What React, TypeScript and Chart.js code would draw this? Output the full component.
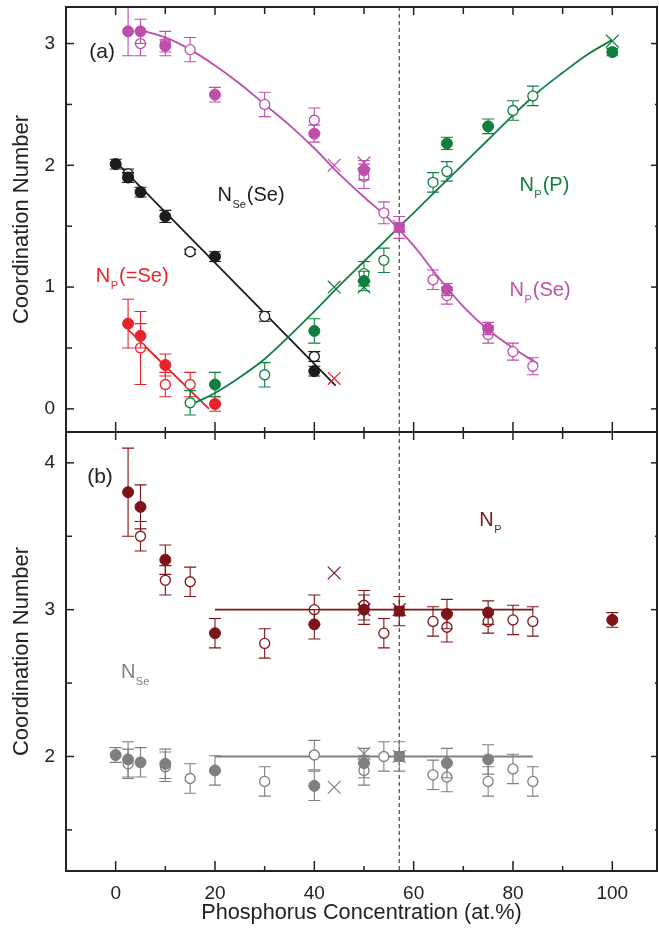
import React, { useEffect, useRef } from "react";
import { Chart, registerables } from "chart.js";

Chart.register(...registerables);

const FONT = "'Liberation Sans', Arimo, Arial, Helvetica, sans-serif";

// ---------- axes ----------
const X_MIN = -10;
const X_MAX = 109;
const xTicks = [0, 20, 40, 60, 80, 100];
const xMinorTicks = [10, 30, 50, 70, 90];
const Y_MIN_A = -0.19;
const Y_MAX_A = 3.3;
const yTicksA = [0, 1, 2, 3];
const yMinorTicksA = [0.5, 1.5, 2.5];
const Y_MIN_B = 1.22;
const Y_MAX_B = 4.21;
const yTicksB = [2, 3, 4];
const yMinorTicksB = [1.5, 2.5, 3.5];
const dashX = 57.1;

// ---------- colours ----------
const BLACK = "#1c1c1c";
const RED = "#e8242b";
const GREEN = "#0f7f3f";
const PINK = "#bd4fab";
const DARKRED = "#7d1418";
const GREY = "#7f7f7f";
const AXIS = "#222222";

// ---------- panel (a) data ----------
// N_Se(Se) black
const seSeFilledX = [0, 2.5, 5, 10, 20, 40];
const seSeFilledY = [2.01, 1.9, 1.78, 1.58, 1.25, 0.31];
const seSeFilledErr = [0.04, 0.04, 0.04, 0.05, 0.04, 0.04];
const seSeOpenX = [2.5, 15, 30, 40];
const seSeOpenY = [1.93, 1.29, 0.76, 0.43];
const seSeOpenErr = [0.04, 0.02, 0.04, 0.04];
const seSeLineX = [-0.5, 44.3];
const seSeLineY = [2.05, 0.19];

// N_P(=Se) red
const pDblFilledX = [2.5, 5, 10, 20];
const pDblFilledY = [0.7, 0.6, 0.36, 0.04];
const pDblFilledErr = [0.2, 0.1, 0.09, 0.06];
const pDblOpenX = [5, 10, 15];
const pDblOpenY = [0.5, 0.2, 0.2];
const pDblOpenErr = [0.3, 0.1, 0.1];
const pDblCrossX = [44];
const pDblCrossY = [0.25];
const pDblLineX = [2.5, 18.8];
const pDblLineY = [0.65, 0.0];

// N_P(P) green
const pPFilledX = [20, 40, 50, 66.7, 75, 100];
const pPFilledY = [0.2, 0.64, 1.05, 2.18, 2.32, 2.93];
const pPFilledErr = [0.1, 0.1, 0.08, 0.05, 0.06, 0.03];
const pPOpenX = [15, 30, 50, 54, 63.9, 66.7, 80, 84];
const pPOpenY = [0.05, 0.28, 1.11, 1.22, 1.86, 1.95, 2.45, 2.57];
const pPOpenErr = [0.1, 0.1, 0.1, 0.1, 0.08, 0.08, 0.08, 0.08];
const pPCrossX = [44, 50, 100];
const pPCrossY = [1.0, 1.0, 3.02];
const pPCurveX = [16, 20, 25, 30, 35, 40, 45, 50, 55, 60, 65, 70, 75, 80, 85, 90, 95, 100];
const pPCurveY = [0.05, 0.13, 0.26, 0.41, 0.6, 0.8, 1.01, 1.21, 1.41, 1.61, 1.81, 2.01, 2.21, 2.41, 2.6, 2.76, 2.91, 3.03];

// N_P(Se) pink
const pSeFilledX = [2.5, 5, 10, 20, 40, 50, 66.7, 75];
const pSeFilledY = [3.1, 3.1, 2.98, 2.58, 2.26, 1.96, 0.98, 0.66];
const pSeFilledErr = [0.2, 0.1, 0.05, 0.06, 0.07, 0.08, 0.05, 0.05];
const pSeOpenX = [5, 10, 15, 30, 40, 50, 54, 63.9, 66.7, 75, 80, 84];
const pSeOpenY = [3.0, 3.0, 2.95, 2.5, 2.37, 1.91, 1.61, 1.06, 0.93, 0.61, 0.47, 0.35];
const pSeOpenErr = [0.1, 0.1, 0.1, 0.1, 0.1, 0.1, 0.09, 0.08, 0.07, 0.07, 0.07, 0.07];
const pSeCrossX = [44, 50, 57.1];
const pSeCrossY = [2.0, 2.02, 1.5];
const pSeSquareX = [57.1];
const pSeSquareY = [1.49];
const pSeSquareErr = [0.09];
const pSeCurveX = [5, 10, 15, 20, 25, 30, 35, 40, 45, 50, 55, 60, 65, 70, 75, 80, 85];
const pSeCurveY = [3.11, 3.05, 2.95, 2.82, 2.67, 2.5, 2.33, 2.14, 1.93, 1.74, 1.56, 1.34, 1.08, 0.84, 0.65, 0.5, 0.37];

// ---------- panel (b) data ----------
// N_P dark red
const npFilledX = [2.5, 5, 10, 20, 40, 50, 66.7, 75, 100];
const npFilledY = [3.8, 3.7, 3.34, 2.84, 2.9, 3.0, 2.97, 2.98, 2.93];
const npFilledErr = [0.3, 0.15, 0.1, 0.1, 0.1, 0.1, 0.1, 0.08, 0.05];
const npOpenX = [5, 10, 15, 30, 40, 50, 54, 63.9, 66.7, 75, 80, 84];
const npOpenY = [3.5, 3.2, 3.19, 2.77, 3.0, 3.03, 2.84, 2.92, 2.88, 2.92, 2.93, 2.92];
const npOpenErr = [0.1, 0.1, 0.1, 0.1, 0.1, 0.1, 0.1, 0.1, 0.1, 0.08, 0.1, 0.1];
const npCrossX = [44, 50, 57.1];
const npCrossY = [3.25, 3.0, 3.0];
const npSquareX = [57.1];
const npSquareY = [2.99];
const npSquareErr = [0.1];
const npLineX = [20, 84];
const npLineY = [3, 3];

// N_Se grey
const nseFilledX = [0, 2.5, 5, 10, 20, 40, 50, 66.7, 75];
const nseFilledY = [2.01, 1.98, 1.96, 1.95, 1.905, 1.8, 1.955, 1.955, 1.98];
const nseFilledErr = [0.05, 0.12, 0.1, 0.1, 0.1, 0.1, 0.1, 0.1, 0.1];
const nseOpenX = [2.5, 10, 15, 30, 40, 50, 54, 63.9, 66.7, 75, 80, 84];
const nseOpenY = [1.95, 1.93, 1.85, 1.83, 2.01, 1.905, 2.0, 1.875, 1.86, 1.83, 1.915, 1.83];
const nseOpenErr = [0.1, 0.1, 0.1, 0.1, 0.1, 0.1, 0.1, 0.1, 0.1, 0.1, 0.1, 0.1];
const nseCrossX = [44, 50, 57.1];
const nseCrossY = [1.79, 2.02, 2.0];
const nseSquareX = [57.1];
const nseSquareY = [2.0];
const nseSquareErr = [0.1];
const nseLineX = [20, 84];
const nseLineY = [2, 2];

// ---------- text annotations (data coordinates) ----------
type Lbl = { main: string; sub?: string; tail?: string; x: number; y: number; color: string };
const labelsA: Lbl[] = [
  { main: "(a)", x: -5.3, y: 2.885, color: AXIS },
  { main: "N", sub: "Se", tail: "(Se)", x: 20.5, y: 1.707, color: BLACK },
  { main: "N", sub: "P", tail: "(=Se)", x: -4.0, y: 1.04, color: RED },
  { main: "N", sub: "P", tail: "(P)", x: 81.3, y: 1.79, color: GREEN },
  { main: "N", sub: "P", tail: "(Se)", x: 79.3, y: 0.926, color: PINK },
];
const labelsB: Lbl[] = [
  { main: "(b)", x: -5.74, y: 3.86, color: AXIS },
  { main: "N", sub: "P", x: 73.2, y: 3.573, color: DARKRED },
  { main: "N", sub: "Se", x: 1.05, y: 2.536, color: GREY },
];

// ---------- helpers ----------
const pts = (xs: number[], ys: number[]) => xs.map((x, i) => ({ x, y: ys[i] }));

const filled = (xs: number[], ys: number[], err: number[], c: string) => ({
  data: pts(xs, ys), errors: err, errColor: c,
  pointStyle: "circle", pointRadius: 5.5, pointBackgroundColor: c, pointBorderColor: c, pointBorderWidth: 1,
  showLine: false,
});
const open = (xs: number[], ys: number[], err: number[], c: string) => ({
  data: pts(xs, ys), errors: err, errColor: c,
  pointStyle: "circle", pointRadius: 5, pointBackgroundColor: "#ffffff", pointBorderColor: c, pointBorderWidth: 1.3,
  showLine: false,
});
const cross = (xs: number[], ys: number[], c: string) => ({
  data: pts(xs, ys),
  pointStyle: "crossRot", pointRadius: 9, pointBackgroundColor: c, pointBorderColor: c, pointBorderWidth: 1.2,
  showLine: false,
});
const square = (xs: number[], ys: number[], err: number[], c: string) => ({
  data: pts(xs, ys), errors: err, errColor: c,
  pointStyle: "rect", pointRadius: 7, pointBackgroundColor: c, pointBorderColor: c, pointBorderWidth: 1,
  showLine: false,
});
const curve = (xs: number[], ys: number[], c: string) => ({
  data: pts(xs, ys), showLine: true, borderColor: c, borderWidth: 1.8, pointRadius: 0,
  cubicInterpolationMode: "monotone", fill: false,
});

const errorBarPlugin = {
  id: "errorBars",
  beforeDatasetDraw(chart: any, args: any) {
    const ds = chart.data.datasets[args.index];
    if (!ds.errors) return;
    const { ctx, chartArea, scales } = chart;
    const xs = scales.x, ys = scales.y;
    ctx.save();
    ctx.beginPath();
    ctx.rect(chartArea.left, chartArea.top, chartArea.right - chartArea.left, chartArea.bottom - chartArea.top);
    ctx.clip();
    ctx.strokeStyle = ds.errColor;
    ctx.lineWidth = 1.1;
    ds.data.forEach((p: any, i: number) => {
      const e = ds.errors[i];
      if (!e) return;
      const px = xs.getPixelForValue(p.x);
      const y1 = ys.getPixelForValue(p.y - e);
      const y2 = ys.getPixelForValue(p.y + e);
      ctx.beginPath();
      ctx.moveTo(px, y1); ctx.lineTo(px, y2);
      ctx.moveTo(px - 6, y1); ctx.lineTo(px + 6, y1);
      ctx.moveTo(px - 6, y2); ctx.lineTo(px + 6, y2);
      ctx.stroke();
    });
    ctx.restore();
  },
};

function drawLabels(chart: any, labels: Lbl[]) {
  const { ctx, scales } = chart;
  ctx.save();
  ctx.textBaseline = "alphabetic";
  ctx.textAlign = "left";
  for (const l of labels) {
    let px = scales.x.getPixelForValue(l.x);
    const py = scales.y.getPixelForValue(l.y);
    ctx.fillStyle = l.color;
    ctx.font = `${l.sub === undefined ? 21 : 20}px ${FONT}`;
    ctx.fillText(l.main, px, py);
    px += ctx.measureText(l.main).width;
    if (l.sub) {
      ctx.font = `11px ${FONT}`;
      ctx.fillText(l.sub, px + 0.5, py + 7);
      px += ctx.measureText(l.sub).width + 1.5;
    }
    if (l.tail) {
      ctx.font = `20px ${FONT}`;
      ctx.fillText(l.tail, px, py);
    }
  }
  ctx.restore();
}

function makeDecor(id: string, yMajor: number[], yMinor: number[], labels: Lbl[]) {
  return {
    id,
    beforeDatasetsDraw(chart: any) {
      const { ctx, chartArea, scales } = chart;
      const px = scales.x.getPixelForValue(dashX);
      ctx.save();
      ctx.strokeStyle = AXIS;
      ctx.lineWidth = 1;
      ctx.setLineDash([4, 3]);
      ctx.beginPath();
      ctx.moveTo(px, chartArea.top);
      ctx.lineTo(px, chartArea.bottom);
      ctx.stroke();
      ctx.restore();
    },
    afterDraw(chart: any) {
      const { ctx, chartArea, scales } = chart;
      const { left, right, top, bottom } = chartArea;
      ctx.save();
      ctx.strokeStyle = AXIS;
      ctx.lineWidth = 1.5;
      const line = (x1: number, y1: number, x2: number, y2: number) => {
        ctx.beginPath(); ctx.moveTo(x1, y1); ctx.lineTo(x2, y2); ctx.stroke();
      };
      for (const v of xTicks) {
        const p = scales.x.getPixelForValue(v);
        line(p, bottom, p, bottom - 10);
        line(p, top, p, top + 8);
      }
      for (const v of xMinorTicks) {
        const p = scales.x.getPixelForValue(v);
        line(p, bottom, p, bottom - 5);
        line(p, top, p, top + 7);
      }
      for (const v of yMajor) {
        const p = scales.y.getPixelForValue(v);
        line(left, p, left + 8, p);
        line(right, p, right - 6, p);
      }
      for (const v of yMinor) {
        const p = scales.y.getPixelForValue(v);
        line(left, p, left + 6, p);
        line(right, p, right - 2, p);
      }
      ctx.lineWidth = 2;
      ctx.strokeRect(left, top, right - left, bottom - top);
      ctx.restore();
      drawLabels(chart, labels);
    },
  };
}

const yScale = (min: number, max: number, ticks: number[]) => ({
  type: "linear",
  min,
  max,
  afterBuildTicks: (s: any) => { s.ticks = ticks.map((v) => ({ value: v })); },
  afterFit: (s: any) => { s.width = 66; s.paddingTop = 0; s.paddingBottom = 0; },
  grid: { display: false, drawTicks: false },
  border: { display: false },
  ticks: { padding: 11, color: AXIS, font: { family: FONT, size: 19 }, callback: (v: any) => String(v), autoSkip: false },
  title: { display: true, text: "Coordination Number", color: AXIS, font: { family: FONT, size: 22 }, padding: { top: 9, bottom: 0 } },
});

export default function App() {
  const refA = useRef<HTMLCanvasElement>(null);
  const refB = useRef<HTMLCanvasElement>(null);

  useEffect(() => {
    const common = {
      responsive: false,
      animation: false,
      devicePixelRatio: 1,
      events: [],
      plugins: { legend: { display: false }, tooltip: { enabled: false } },
    };

    const chartA = new Chart(refA.current as HTMLCanvasElement, {
      type: "scatter",
      data: {
        datasets: [
          cross(pSeCrossX, pSeCrossY, PINK),
          cross(pPCrossX, pPCrossY, GREEN),
          cross(pDblCrossX, pDblCrossY, RED),
          square(pSeSquareX, pSeSquareY, pSeSquareErr, PINK),
          filled(pSeFilledX, pSeFilledY, pSeFilledErr, PINK),
          filled(pPFilledX, pPFilledY, pPFilledErr, GREEN),
          filled(pDblFilledX, pDblFilledY, pDblFilledErr, RED),
          filled(seSeFilledX, seSeFilledY, seSeFilledErr, BLACK),
          open(pSeOpenX, pSeOpenY, pSeOpenErr, PINK),
          open(pPOpenX, pPOpenY, pPOpenErr, GREEN),
          open(pDblOpenX, pDblOpenY, pDblOpenErr, RED),
          open(seSeOpenX, seSeOpenY, seSeOpenErr, BLACK),
          curve(pSeCurveX, pSeCurveY, PINK),
          curve(pPCurveX, pPCurveY, GREEN),
          curve(pDblLineX, pDblLineY, RED),
          curve(seSeLineX, seSeLineY, BLACK),
        ] as any,
      },
      options: {
        ...common,
        layout: { autoPadding: false, padding: { top: 7, right: 2, bottom: 4, left: 0 } },
        scales: {
          x: { type: "linear", min: X_MIN, max: X_MAX, display: false },
          y: yScale(Y_MIN_A, Y_MAX_A, yTicksA),
        },
      } as any,
      plugins: [errorBarPlugin, makeDecor("decorA", yTicksA, yMinorTicksA, labelsA)] as any,
    });

    const chartB = new Chart(refB.current as HTMLCanvasElement, {
      type: "scatter",
      data: {
        datasets: [
          cross(npCrossX, npCrossY, DARKRED),
          cross(nseCrossX, nseCrossY, GREY),
          square(npSquareX, npSquareY, npSquareErr, DARKRED),
          square(nseSquareX, nseSquareY, nseSquareErr, GREY),
          filled(npFilledX, npFilledY, npFilledErr, DARKRED),
          filled(nseFilledX, nseFilledY, nseFilledErr, GREY),
          open(npOpenX, npOpenY, npOpenErr, DARKRED),
          open(nseOpenX, nseOpenY, nseOpenErr, GREY),
          curve(npLineX, npLineY, DARKRED),
          curve(nseLineX, nseLineY, GREY),
        ] as any,
      },
      options: {
        ...common,
        layout: { autoPadding: false, padding: { top: 0, right: 2, bottom: 0, left: 0 } },
        scales: {
          x: {
            type: "linear",
            min: X_MIN,
            max: X_MAX,
            afterBuildTicks: (s: any) => { s.ticks = xTicks.map((v) => ({ value: v })); },
            afterFit: (s: any) => { s.height = 57; s.paddingLeft = 0; s.paddingRight = 0; },
            grid: { display: false, drawTicks: false },
            border: { display: false },
            ticks: { padding: 11, color: AXIS, font: { family: FONT, size: 19 }, maxRotation: 0, autoSkip: false, callback: (v: any) => String(v) },
            title: { display: true, text: "Phosphorus Concentration (at.%)", color: AXIS, font: { family: FONT, size: 21.7 }, padding: { top: 0, bottom: 2 } },
          },
          y: yScale(Y_MIN_B, Y_MAX_B, yTicksB),
        },
      } as any,
      plugins: [errorBarPlugin, makeDecor("decorB", yTicksB, yMinorTicksB, labelsB)] as any,
    });

    return () => {
      chartA.destroy();
      chartB.destroy();
    };
  }, []);

  return (
    <div style={{ position: "absolute", left: 0, top: 0, width: 659, height: 928, background: "#ffffff" }}>
      <canvas ref={refA} width={659} height={436} style={{ position: "absolute", left: 0, top: 0 }} />
      <canvas ref={refB} width={659} height={496} style={{ position: "absolute", left: 0, top: 432 }} />
    </div>
  );
}
